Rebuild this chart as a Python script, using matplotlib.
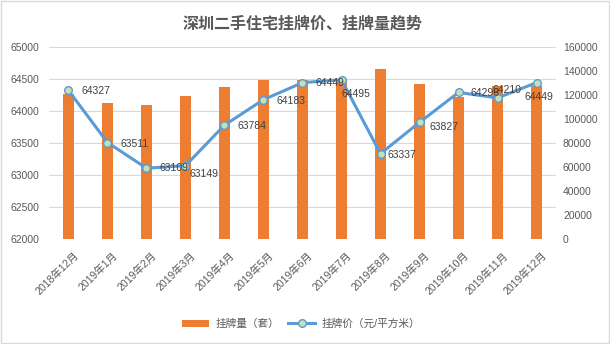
import matplotlib
matplotlib.use("Agg")
import matplotlib.pyplot as plt
import matplotlib.transforms as mtransforms
from matplotlib.patches import Rectangle

plt.rcParams['font.family'] = ['Liberation Sans', 'Noto Sans CJK SC', 'DejaVu Sans']

# 月份
meses = ['2018年12月', '2019年1月', '2019年2月', '2019年3月', '2019年4月', '2019年5月',
         '2019年6月', '2019年7月', '2019年8月', '2019年9月', '2019年10月', '2019年11月',
         '2019年12月']
# 挂牌价 (元/平方米)
precio = [64327, 63511, 63109, 63149, 63784, 64183, 64449, 64495, 63337, 63827, 64296,
          64210, 64449]
# 挂牌量 (套)
cantidad = [121000, 113800, 111800, 119400, 126900, 132700, 132700, 133300, 141900,
            129400, 118800, 127700, 127700]

# desplazamiento de las etiquetas (pixeles)
desp = [(13, -1), (13, -1), (13, 0), (4, -8), (13, -1), (13, -1), (13, 0), (0, -14),
        (7, -1), (10, -5), (12, -1), (-5, 8), (-12, -14)]

gris = '#595959'
fig = plt.figure(figsize=(6.1, 3.44), dpi=100)
fig.patches.append(Rectangle((0.001, 0.002), 0.997, 0.995, transform=fig.transFigure,
                             fill=False, edgecolor='#D9D9D9', linewidth=1))

# eje izquierdo con la rejilla
ax = fig.add_axes([0.0803, 0.3052, 0.8312, 0.5568])
ax.set_xlim(-0.5, len(meses) - 0.5)
ax.set_ylim(62000, 65000)
ax.set_yticks(range(62000, 65001, 500))
ax.grid(axis='y', color='#D9D9D9', linewidth=0.8)
ax.set_axisbelow(True)
for s in ax.spines.values():
    s.set_visible(False)
ax.tick_params(axis='y', length=0, labelsize=7.5, labelcolor=gris, pad=7)
ax.set_xticks(range(len(meses)))
ax.set_xticklabels(meses, rotation=45, ha='right', rotation_mode='anchor',
                   fontsize=7.5, color=gris)
ax.tick_params(axis='x', length=0, pad=8)
corr = mtransforms.ScaledTranslation(5 / 100, 0, fig.dpi_scale_trans)
for lab in ax.get_xticklabels():
    lab.set_transform(lab.get_transform() + corr)

# barras en el eje derecho
ax2 = ax.twinx()
barras = ax2.bar(range(len(meses)), cantidad, width=0.3, color='#ED7D31',
                 label='挂牌量（套）')
ax2.set_ylim(0, 160000)
ax2.set_yticks(range(0, 160001, 20000))
ax2.tick_params(axis='y', length=0, labelsize=7.5, labelcolor=gris, pad=5)
for s in ax2.spines.values():
    s.set_visible(False)

# linea de precios encima de las barras
ax3 = ax.twinx()
ax3.set_ylim(62000, 65000)
ax3.set_yticks([])
for s in ax3.spines.values():
    s.set_visible(False)
linea, = ax3.plot(range(len(meses)), precio, color='#5B9BD5', linewidth=2.2,
                  marker='o', markersize=5.5, markerfacecolor='#C5E0B4',
                  markeredgecolor='#5B9BD5', markeredgewidth=1,
                  label='挂牌价（元/平方米）')
for i, v in enumerate(precio):
    ax3.annotate(str(v), (i, v), xytext=desp[i], textcoords='offset pixels',
                 ha='left', va='center', fontsize=7.5, color='#404040')

ax.set_title('深圳二手住宅挂牌价、挂牌量趋势', fontsize=11.5, fontweight='bold',
             color=gris, pad=14)

fig.legend([barras, linea], ['挂牌量（套）', '挂牌价（元/平方米）'],
           loc='center', bbox_to_anchor=(0.494, 0.058), ncol=2, frameon=False,
           fontsize=7.7, labelcolor=gris, handlelength=2.5, columnspacing=0.8,
           handletextpad=0.65)

plt.savefig('out.png', dpi=100)
